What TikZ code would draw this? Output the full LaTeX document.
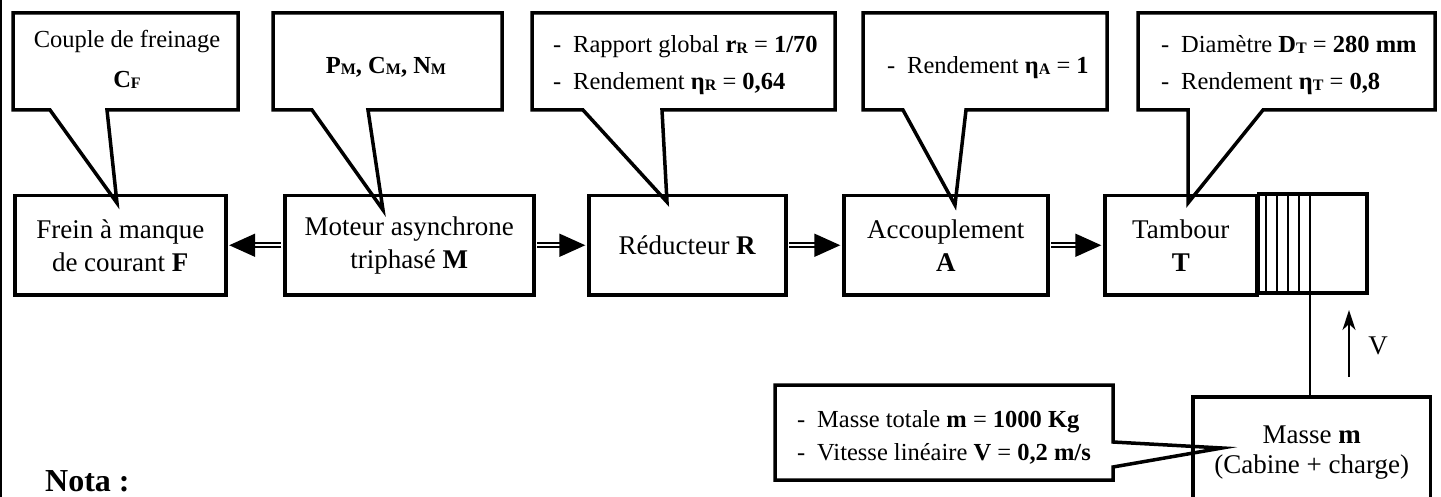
\documentclass[tikz,border=0pt]{standalone}
\usepackage{fontspec}
\setmainfont{Liberation Serif}
\usetikzlibrary{arrows.meta}
\newcommand\sbx[1]{\raisebox{-1pt}{\fontsize{16}{16}\selectfont\bfseries #1}}
\newcommand\dsh{\makebox[20pt][l]{-}}
\begin{document}
\begin{tikzpicture}[x=1pt,y=-1pt,
  box/.style={draw, line width=3.5pt, inner sep=0pt, align=center, font=\fontsize{27}{33}\selectfont},
  callout/.style={draw, line width=3.5pt, fill=white, line join=miter},
  ctext/.style={inner sep=0pt, font=\fontsize{24.5}{30}\selectfont},
  dline/.style={double, line width=1.8pt, double distance=2.2pt, shorten >=1.7pt, shorten <=1.7pt, -{Triangle[length=26pt,width=23pt]}},
  thinl/.style={line width=1.3pt}]
\useasboundingbox (0,0) rectangle (1441,497);
\clip (0,0) rectangle (1441,497);
\fill[white] (0,0) rectangle (1441,497);
\draw[thinl] (1,0) -- (1,497);
% callouts
\draw[callout] (13,13) -- (238,13) -- (238,110) -- (107,110) -- (117,203) -- (50,110) -- (13,110) -- cycle;
\draw[callout] (273,13) -- (502,13) -- (502,110) -- (368,110) -- (383,210) -- (312,110) -- (273,110) -- cycle;
\draw[callout] (532,13) -- (835,13) -- (835,110) -- (662,110) -- (667,202) -- (583,110) -- (532,110) -- cycle;
\draw[callout] (863,13) -- (1107,13) -- (1107,110) -- (966,110) -- (955,205) -- (903,110) -- (863,110) -- cycle;
\draw[callout] (1138,13) -- (1435,13) -- (1435,110) -- (1263,110) -- (1188,203) -- (1188,110) -- (1138,110) -- cycle;
\draw[callout] (775,385) -- (1113,385) -- (1113,442) -- (1222,448) -- (1113,467) -- (1113,480) -- (775,480) -- cycle;
% callout texts
\node[ctext, anchor=base] (c1a) at (127,48) {Couple de freinage};
\node[ctext, anchor=base] (c1b) at (127,88) {\textbf{C}\sbx{F}};
\node[ctext, anchor=base] (c2a) at (386,74) {\textbf{P}\sbx{M}\textbf{, C}\sbx{M}\textbf{, N}\sbx{M}};
\node[ctext, anchor=base west] (c3a) at (553,53) {\dsh Rapport global \textbf{r}\sbx{R} = \textbf{1/70}};
\node[ctext, anchor=base west] (c3b) at (553,90) {\dsh Rendement \textbf{η}\sbx{R} = \textbf{0,64}};
\node[ctext, anchor=base west] (c4a) at (887,74) {\dsh Rendement \textbf{η}\sbx{A} = \textbf{1}};
\node[ctext, anchor=base west] (c5a) at (1161,53) {\dsh Diamètre \textbf{D}\sbx{T} = \textbf{280 mm}};
\node[ctext, anchor=base west] (c5b) at (1161,90) {\dsh Rendement \textbf{η}\sbx{T} = \textbf{0,8}};
\node[ctext, anchor=base west] (c6a) at (797,427) {\dsh Masse totale \textbf{m} = \textbf{1000 Kg}};
\node[ctext, anchor=base west] (c6b) at (797,460) {\dsh Vitesse linéaire \textbf{V} = \textbf{0,2 m/s}};
% blocks
\node[box, minimum width=211pt, minimum height=99pt, anchor=north west] (F) at (13,194) {Frein à manque\\de courant \textbf{F}};
\node[box, minimum width=249pt, minimum height=99pt, anchor=north west] (M) at (283,194) {Moteur asynchrone\\triphasé \textbf{M}};
\node[box, minimum width=197pt, minimum height=99pt, anchor=north west] (R) at (587,194) {Réducteur \textbf{R}};
\node[box, minimum width=204pt, minimum height=99pt, anchor=north west] (A) at (842,194) {Accouplement\\\textbf{A}};
\node[box, minimum width=152pt, minimum height=99pt, anchor=north west] (T) at (1103,194) {Tambour\\\textbf{T}};
\coordinate (drumse) at (1367,293);
\draw[line width=3.5pt] (T.north east) rectangle (drumse);
\foreach \xx in {1266,1277,1288,1299,1310} \draw[thinl] (\xx,194) -- (\xx,293);
% mass block: open at the bottom (cut by the page edge)
\node[inner sep=0pt, anchor=north west, minimum width=237pt, inner ysep=28.5pt, align=center, font=\fontsize{27}{30}\selectfont] (Ma) at (1193,397) {Masse \textbf{m}\\(Cabine + charge)};
\draw[line width=3.5pt] ([yshift=-40pt]Ma.south west) -- (Ma.north west) -- (Ma.north east) -- ([yshift=-40pt]Ma.south east);
\coordinate (cab) at (1310,293);
\draw[thinl] (cab) -- (cab |- Ma.north);
% arrows
\draw[dline] (M.west) -- (F.east);
\draw[dline] (M.east) -- (R.west);
\draw[dline] (R.east) -- (A.west);
\draw[dline] (A.east) -- (T.west);
\coordinate (v1) at (1349,377);
\coordinate (v2) at (1349,310);
\draw[line width=2pt, -{Stealth[length=20pt,width=13pt,inset=6pt]}] (v1) -- (v2);
\node[inner sep=0pt, font=\fontsize{27}{30}\selectfont] (vl) at (1378,346) {V};
\node[anchor=base west, inner sep=0pt, font=\fontsize{32}{32}\selectfont\bfseries] (nota) at (45,491) {Nota :};
\end{tikzpicture}
\end{document}
